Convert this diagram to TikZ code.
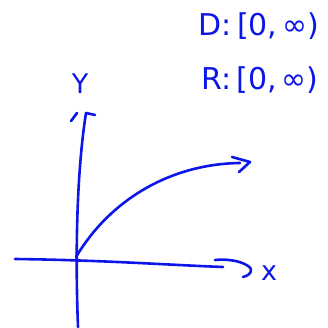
\documentclass[tikz,border=0pt]{standalone}
\usepackage{fontspec}
\setmainfont{DejaVu Sans}
\definecolor{handblue}{RGB}{12,22,232}
\tikzset{
  hand/.style={draw=handblue, line width=2.6pt, line cap=round, line join=round},
  lbl/.style={text=handblue, inner sep=0pt, font=\fontsize{30}{34}\selectfont},
  axlbl/.style={text=handblue, inner sep=0pt, font=\fontsize{27}{30}\selectfont}
}
\begin{document}
\begin{tikzpicture}[x=1pt,y=-1pt]
\useasboundingbox (0,0) rectangle (327,328);
% domain and range
\node[lbl] (dom) at (259,26) {D:\,[0,\,∞)};
\node[lbl] (ran) at (260,80) {R:\,[0,\,∞)};
% y axis
\coordinate (ybot) at (78,327);
\coordinate (ytop) at (86,113);
\draw[hand] (ybot) .. controls (75,250) and (77,170) .. (ytop);
\draw[hand] (71,121) -- (77,113);
\draw[hand] (ytop) -- (95,115);
\node[axlbl] (ylab) at (80,84) {Y};
% x axis
\coordinate (xleft) at (15,259);
\coordinate (xright) at (223,267);
\draw[hand] (xleft) .. controls (100,260) and (170,265) .. (xright);
\draw[hand] (215,260) .. controls (235,258) and (251,265) .. (251,270) .. controls (251,274) and (247,276) .. (243,277);
\node[axlbl] (xlab) at (269,273) {x};
% curve
\coordinate (c0) at (76,257);
\coordinate (c1) at (240,163);
\draw[hand] (c0) .. controls (110,200) and (170,164) .. (c1);
\draw[hand] (232,157) -- (250,162) -- (239,172);
\end{tikzpicture}
\end{document}
